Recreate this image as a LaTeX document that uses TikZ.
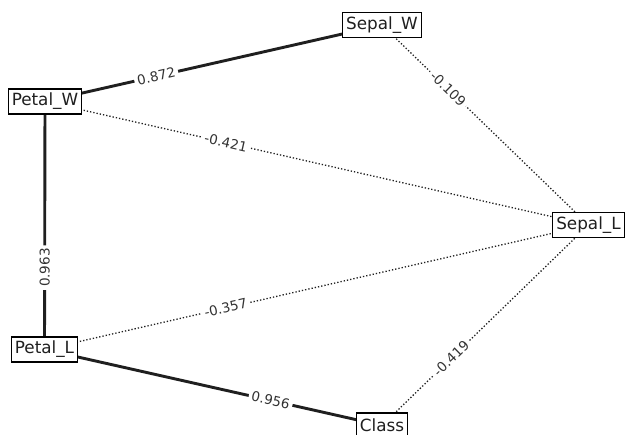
\documentclass[tikz,border=0pt]{standalone}
\usepackage{fontspec}
\setmainfont{DejaVu Sans}
\usetikzlibrary{backgrounds}
\definecolor{edgec}{gray}{0.12}
\definecolor{labc}{gray}{0.2}
\tikzset{
  var/.style={draw=black, line width=1.3pt, fill=white, text=edgec,
    font=\fontsize{16.8}{19}\selectfont, inner xsep=3.5pt, inner ysep=0pt,
    minimum height=25pt},
  strong/.style={draw=edgec, line width=2.9pt},
  weak/.style={draw=edgec, line width=1.3pt, dash pattern=on 1.3pt off 2pt},
  wlab/.style={fill=white, text=labc, font=\fontsize{13.5}{15}\selectfont,
    inner xsep=3pt, inner ysep=1.5pt, sloped}
}
\begin{document}
\begin{tikzpicture}[x=1pt,y=1pt]
\useasboundingbox (0,0) rectangle (625,435);
\clip (0,0) rectangle (625,435);
\node[var] (sw) at (382,410) {Sepal\_W};
\node[var] (pw) at (45,333.5) {Petal\_W};
\node[var] (sl) at (588.5,210) {Sepal\_L};
\node[var] (pl) at (44.5,85.5) {Petal\_L};
\node[var] (cl) at (382,9.5) {Class};
\begin{pgfonlayer}{background}
\draw[strong] (pw.center) -- node[wlab,pos=0.33] {0.872} (sw.center);
\draw[weak] (sw.center) -- node[wlab,pos=0.32] {-0.109} (sl.center);
\draw[weak] (pw.center) -- node[wlab,pos=0.333] {-0.421} (sl.center);
\draw[strong] (pw.center) -- node[wlab,pos=0.67] {0.963} (pl.center);
\draw[weak] (pl.center) -- node[wlab,pos=0.333] {-0.357} (sl.center);
\draw[weak] (cl.center) -- node[wlab,pos=0.335] {-0.419} (sl.center);
\draw[strong] (pl.center) -- node[wlab,pos=0.67] {0.956} (cl.center);
\end{pgfonlayer}
\end{tikzpicture}
\end{document}
